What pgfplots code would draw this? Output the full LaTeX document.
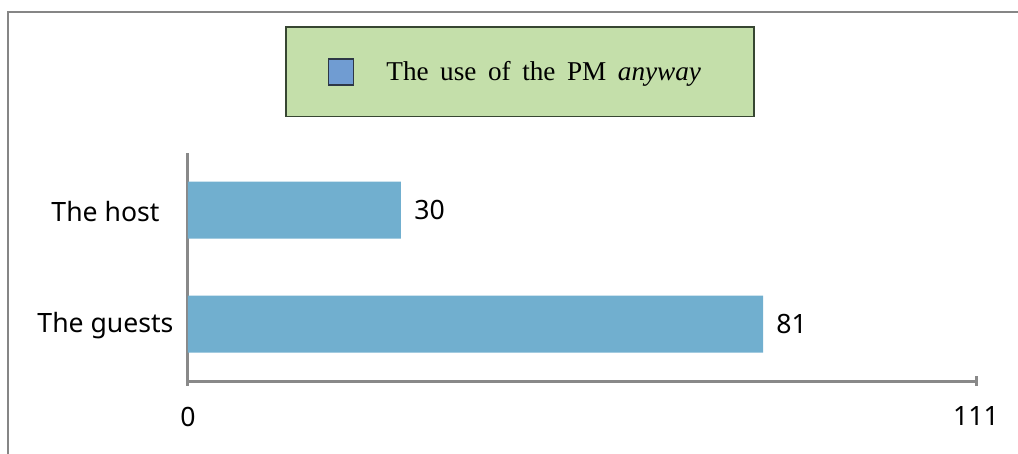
\documentclass[border=0pt]{standalone}
\usepackage{fontspec}
\setmainfont{Noto Sans}
\newfontfamily\legfont[WordSpace=1.7]{Liberation Serif}
\usepackage{pgfplots}
\pgfplotsset{compat=1.18}
\definecolor{barblue}{RGB}{113,175,207}
\definecolor{legblue}{RGB}{112,156,210}
\definecolor{sqborder}{RGB}{45,55,70}
\definecolor{leggreen}{RGB}{196,223,170}
\definecolor{legborder}{RGB}{55,70,50}
\definecolor{axgray}{RGB}{137,137,137}
\definecolor{framegray}{RGB}{134,134,134}
\begin{document}
\begin{tikzpicture}
\begin{axis}[
  at={(94pt,-190.5pt)}, anchor=south west,
  scale only axis, width=394pt, height=114pt,
  xbar, bar width=28.5pt,
  xmin=0, xmax=111, ymin=-0.5, ymax=1.5,
  axis x line=bottom, axis y line=left,
  axis line style={-, draw=axgray, line width=1.5pt},
  x axis line style={line width=1.5pt},
  y axis line style={line width=1.5pt},
  xtick={0,111}, xticklabels={0,111},
  ytick={0,1}, yticklabels={The guests,The host},
  xtick align=center, major tick length=4.5pt,
  x tick style={draw=axgray, line width=1.5pt},
  y tick style={draw=none},
  xticklabel style={anchor=center, yshift=-15.5pt, font=\fontsize{13.3}{16}\selectfont},
  yticklabel style={anchor=center, xshift=-39pt, yshift=-1pt, font=\fontsize{13.3}{16}\selectfont},
  /pgf/number format/assume math mode=true,
  nodes near coords,
  nodes near coords style={anchor=west, inner sep=0pt, xshift=6.5pt, font=\fontsize{13.3}{16}\selectfont, text=black},
  legend style={at={(0.4213,1.3553)}, anchor=center, fill=leggreen, draw=legborder, line width=0.75pt, inner xsep=21pt, inner ysep=15.5pt, column sep=16pt, nodes={inner sep=0pt}, font=\legfont\fontsize{13.6}{16}\selectfont, legend cell align=left},
  legend image code/.code={\draw[fill=legblue, draw=sqborder, line width=0.75pt] (0pt,-6.5pt) rectangle (12.5pt,6.5pt);},
  clip=false,
]
\addplot[fill=barblue, draw=none] coordinates {(81,0) (30,1)};
\addlegendentry{The use of the PM \textit{anyway}\rule{5.5pt}{0pt}}
\end{axis}
\draw[framegray, line width=0.75pt] (4pt,-227pt) -- (4pt,-6pt) -- (509pt,-6pt);
\pgfresetboundingbox
\path[use as bounding box] (0pt,0pt) rectangle (509pt,-227pt);
\end{tikzpicture}
\end{document}
